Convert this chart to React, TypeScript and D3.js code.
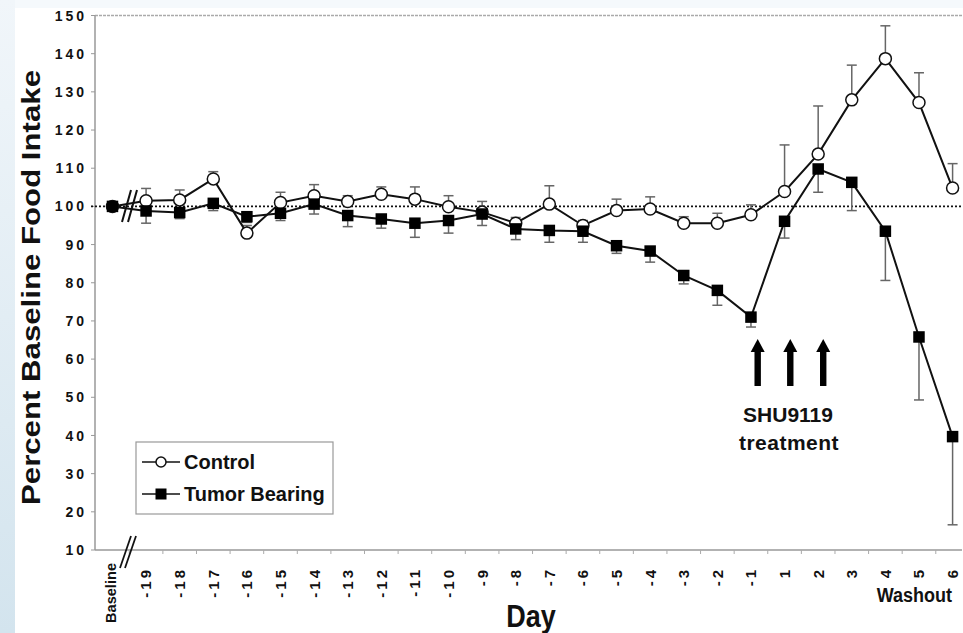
import React from "react";
import * as d3 from "d3";

const days = ["Baseline","-19","-18","-17","-16","-15","-14","-13","-12","-11","-10","-9","-8","-7","-6","-5","-4","-3","-2","-1","1","2","3","4","5","6"];
const controlMean = [100, 101.5, 101.7, 107.2, 93.0, 101.0, 102.8, 101.3, 103.2, 101.9, 99.9, 98.5, 95.6, 100.6, 95.0, 98.9, 99.3, 95.6, 95.6, 97.8, 103.9, 113.7, 127.9, 138.7, 127.2, 104.8];
const controlErr = [0, 3.2, 2.6, 1.9, 2.0, 2.7, 2.9, 1.5, 1.9, 3.2, 2.9, 2.8, 1.5, 4.8, 1.3, 3.0, 3.2, 1.7, 2.6, 2.6, 12.2, 12.6, 9.1, 8.6, 7.8, 6.4];
const tumorMean = [100, 98.8, 98.4, 100.8, 97.3, 98.2, 100.6, 97.6, 96.7, 95.6, 96.3, 98.0, 94.1, 93.7, 93.5, 89.7, 88.3, 81.9, 78.0, 71.0, 96.1, 109.8, 106.3, 93.5, 65.8, 39.7];
const tumorErr = [0, 3.2, 1.6, 1.9, 1.5, 1.9, 2.6, 2.9, 2.4, 3.7, 3.3, 3.0, 2.8, 3.1, 2.9, 2.0, 2.9, 2.2, 3.9, 2.6, 4.4, 6.1, 7.4, 12.9, 16.5, 23.1];
const yTicks = [10, 20, 30, 40, 50, 60, 70, 80, 90, 100, 110, 120, 130, 140, 150];
const arrowIdx = [19.2, 20.17, 21.15];

const FONT = "'Liberation Sans', Arial, Helvetica, sans-serif";

export default function App() {
  const W = 963, H = 633;
  const left = 95, right = 962, top = 15.5, bottom = 550;
  const x = d3.scaleLinear().domain([-0.52, 25.28]).range([left, right]);
  const y = d3.scaleLinear().domain([10, 150]).range([bottom, top]);
  const idx = days.map((_, i) => i);

  const ctrlPath = d3.line<number>().x((i) => x(i)).y((i) => y(controlMean[i]))(idx) || "";
  const tumPath = d3.line<number>().x((i) => x(i)).y((i) => y(tumorMean[i]))(idx) || "";

  const cap = 5;
  const sq = 11.5;

  return (
    <svg width={W} height={H} style={{ position: "absolute", left: 0, top: 0 }} xmlns="http://www.w3.org/2000/svg">
      <defs>
        <linearGradient id="strip" x1="0" y1="0" x2="0" y2="1">
          <stop offset="0" stopColor="#f1f6fa" />
          <stop offset="1" stopColor="#d3e4ee" />
        </linearGradient>
      </defs>
      <rect x={0} y={0} width={W} height={H} fill="#ffffff" />
      <rect x={0} y={0} width={W} height={8} fill="#f5f9fc" />
      <rect x={0} y={0} width={15} height={H} fill="url(#strip)" />

      {/* axes frame */}
      <line x1={left} x2={right} y1={top} y2={top} stroke="#aaaaaa" strokeWidth={1.5} strokeDasharray="3,1" />
      <line x1={left} x2={left} y1={top} y2={bottom} stroke="#999999" strokeWidth={1.5} />
      <line x1={left} x2={right} y1={bottom} y2={bottom} stroke="#999999" strokeWidth={1.5} />
      {yTicks.map((t) => (
        <line key={"yt" + t} x1={left - 4} x2={left} y1={y(t)} y2={y(t)} stroke="#999999" strokeWidth={1} />
      ))}
      {idx.slice(0, 25).map((i) => (
        <line key={"xt" + i} x1={x(i + 0.5)} x2={x(i + 0.5)} y1={bottom} y2={bottom + 4} stroke="#aaaaaa" strokeWidth={1} />
      ))}

      {/* y tick labels */}
      {yTicks.map((t) => (
        <text key={"yl" + t} x={87} y={y(t)} dy="0.36em" textAnchor="end" fontFamily={FONT} fontWeight="bold" fontSize={14} letterSpacing={3} fill="#111">
          {t}
        </text>
      ))}

      {/* x tick labels */}
      {days.map((d, i) =>
        i === 0 ? (
          <text key={"xl" + i} transform={`translate(${x(i) - 2},563) rotate(-90)`} textAnchor="end" dy="0.36em" fontFamily={FONT} fontWeight="bold" fontSize={14} textLength={60} lengthAdjust="spacingAndGlyphs" fill="#111">
            {d}
          </text>
        ) : (
          <text key={"xl" + i} transform={`translate(${x(i)},567) rotate(-90)`} textAnchor="end" dy="0.36em" fontFamily={FONT} fontWeight="bold" fontSize={15} letterSpacing={3} fill="#111">
            {d}
          </text>
        )
      )}

      {/* axis break */}
      {[0, 5].map((o) => (
        <line key={"ab" + o} x1={120 + o} y1={568} x2={131 + o} y2={536} stroke="#111" strokeWidth={1.8} />
      ))}

      {/* reference line */}
      <line x1={91} x2={right} y1={y(100)} y2={y(100)} stroke="#111" strokeWidth={1.6} strokeDasharray="2,2" />

      {/* control error bars (up) */}
      {idx.map((i) =>
        controlErr[i] > 0 ? (
          <g key={"ce" + i} stroke="#666" strokeWidth={1.5}>
            <line x1={x(i)} x2={x(i)} y1={y(controlMean[i])} y2={y(controlMean[i] + controlErr[i])} />
            <line x1={x(i) - cap} x2={x(i) + cap} y1={y(controlMean[i] + controlErr[i])} y2={y(controlMean[i] + controlErr[i])} />
          </g>
        ) : null
      )}
      {/* tumor error bars (down) */}
      {idx.map((i) =>
        tumorErr[i] > 0 ? (
          <g key={"te" + i} stroke="#666" strokeWidth={1.5}>
            <line x1={x(i)} x2={x(i)} y1={y(tumorMean[i])} y2={y(tumorMean[i] - tumorErr[i])} />
            <line x1={x(i) - cap} x2={x(i) + cap} y1={y(tumorMean[i] - tumorErr[i])} y2={y(tumorMean[i] - tumorErr[i])} />
          </g>
        ) : null
      )}

      <path d={ctrlPath} fill="none" stroke="#111" strokeWidth={2} />
      <path d={tumPath} fill="none" stroke="#111" strokeWidth={2} />

      {idx.map((i) => (
        <circle key={"c" + i} cx={x(i)} cy={y(controlMean[i])} r={6} fill="#fff" stroke="#111" strokeWidth={1.5} />
      ))}
      {idx.map((i) => (
        <rect key={"s" + i} x={x(i) - sq / 2} y={y(tumorMean[i]) - sq / 2} width={sq} height={sq} fill="#000" />
      ))}

      {/* data break */}
      {[0, 6].map((o) => (
        <line key={"db" + o} x1={122 + o} y1={222} x2={131 + o} y2={190} stroke="#111" strokeWidth={2} />
      ))}

      {/* arrows */}
      {arrowIdx.map((a, k) => (
        <g key={"ar" + k} fill="#000">
          <rect x={x(a) - 3.2} y={350} width={6.4} height={36} />
          <path d={`M${x(a) - 7},${352} L${x(a)},${339} L${x(a) + 7},${352} Z`} />
        </g>
      ))}
      <text x={788} y={422} textAnchor="middle" fontFamily={FONT} fontWeight="bold" fontSize={21} fill="#111">SHU9119</text>
      <text x={789} y={450} textAnchor="middle" fontFamily={FONT} fontWeight="bold" fontSize={21} letterSpacing={0.5} fill="#111">treatment</text>

      {/* Washout */}
      <text transform="translate(952,602) scale(1,1.08)" textAnchor="end" fontFamily={FONT} fontWeight="bold" fontSize={18} fill="#111">Washout</text>

      {/* axis titles */}
      <text transform="translate(531,627) scale(1,1.15)" textAnchor="middle" fontFamily={FONT} fontWeight="bold" fontSize={27} fill="#111">Day</text>
      <text transform="translate(40,287.5) rotate(-90)" textAnchor="middle" fontFamily={FONT} fontWeight="bold" fontSize={26} textLength={435} lengthAdjust="spacingAndGlyphs" fill="#111">Percent Baseline Food Intake</text>

      {/* legend */}
      <rect x={136} y={442} width={197} height={72} fill="#fff" stroke="#999" strokeWidth={1.2} />
      <line x1={142} x2={180} y1={462} y2={462} stroke="#111" strokeWidth={1.6} />
      <circle cx={161} cy={462} r={5} fill="#fff" stroke="#111" strokeWidth={1.5} />
      <text x={184} y={469} fontFamily={FONT} fontWeight="bold" fontSize={20} fill="#111">Control</text>
      <line x1={142} x2={180} y1={494} y2={494} stroke="#111" strokeWidth={1.6} />
      <rect x={161 - 5.5} y={494 - 5.5} width={11} height={11} fill="#000" />
      <text x={184} y={501} fontFamily={FONT} fontWeight="bold" fontSize={20} fill="#111">Tumor Bearing</text>
    </svg>
  );
}
